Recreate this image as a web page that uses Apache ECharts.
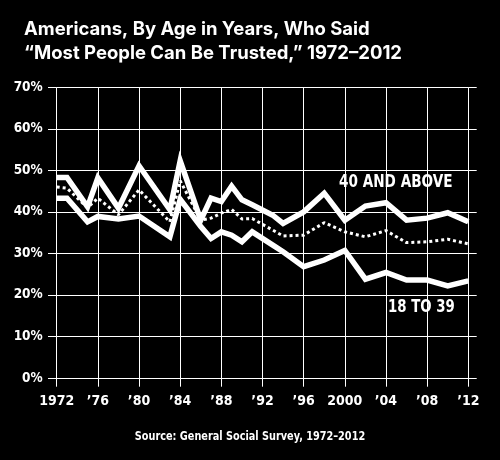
<!DOCTYPE html>
<html>
<head>
<meta charset="utf-8">
<script src="https://cdn.jsdelivr.net/npm/echarts@6/dist/echarts.min.js"></script>
<style>
html,body{margin:0;padding:0;background:#000;}
#c{width:500px;height:460px;}
</style>
</head>
<body>
<div id="c"></div>
<script>
// Data
var years = [1972,1973,1975,1976,1978,1980,1983,1984,1986,1987,1988,1989,1990,1991,1993,1994,1996,1998,2000,2002,2004,2006,2008,2010,2012];
var above40 = [48.3,48.3,41.2,48.2,40.9,51.1,40.5,52.3,38.0,43.3,42.5,46.2,42.9,41.7,39.2,37.2,40.0,44.5,38.0,41.4,42.2,38.0,38.5,39.8,37.6];
var age18to39 = [43.3,43.3,37.6,38.9,38.3,39.0,34.0,43.0,36.5,33.6,35.2,34.4,32.8,35.2,32.0,30.4,26.8,28.4,30.7,23.8,25.4,23.6,23.6,22.2,23.4];
var allAges = [46.0,45.7,41.0,43.3,39.3,45.3,37.6,47.5,38.0,38.5,39.7,40.6,38.3,38.4,35.6,34.2,34.4,37.4,35.2,34.0,35.5,32.6,32.8,33.4,32.3];
var xTickLabels = {1972:'1972',1976:'’76',1980:'’80',1984:'’84',1988:'’88',1992:'’92',1996:'’96',2000:'2000',2004:'’04',2008:'’08',2012:'’12'};
var titleLines = ['Americans, By Age in Years, Who Said', '“Most People Can Be Trusted,” 1972–2012'];
var sourceText = 'Source: General Social Survey, 1972–2012';
var labelAbove = '40 AND ABOVE';
var labelYoung = '18 TO 39';

function pairs(v){ return years.map(function(y,i){ return [y, v[i]]; }); }

var narrow = '"Liberation Sans Narrow", "DejaVu Sans Condensed", "Liberation Sans", sans-serif';
var chart = echarts.init(document.getElementById('c'), null, {renderer:'canvas'});
var lineCol = '#ffffff';
chart.setOption({
  backgroundColor:'#000',
  animation:false,
  title:{
    text: titleLines.join('\n'),
    left:19, top:12,
    textStyle:{color:'#fff', fontFamily:'Inter, "Liberation Sans", sans-serif', fontWeight:700, fontSize:18.5, lineHeight:24}
  },
  grid:{left:56.7, right:31.7, top:87.3, bottom:82},
  xAxis:[{
    type:'value', min:1972, max:2012, interval:4, position:'bottom',
    axisLine:{show:true, lineStyle:{color:lineCol, width:1}},
    axisTick:{show:true, length:8.7, lineStyle:{color:lineCol, width:1}},
    splitLine:{show:true, lineStyle:{color:lineCol, width:1}},
    axisLabel:{color:'#fff', fontFamily:narrow, fontWeight:700, fontSize:14, margin:16,
      formatter:function(v){ return xTickLabels[v] || ''; }}
  },{
    type:'value', min:1972, max:2012, interval:4, position:'top',
    axisLine:{show:false},
    axisTick:{show:true, length:8.3, lineStyle:{color:lineCol, width:1}},
    splitLine:{show:false}, axisLabel:{show:false}
  }],
  yAxis:[{
    type:'value', min:0, max:70, interval:10, position:'left',
    axisLine:{show:false},
    axisTick:{show:true, length:8.7, lineStyle:{color:lineCol, width:1}},
    splitLine:{show:true, lineStyle:{color:lineCol, width:1}},
    axisLabel:{color:'#fff', fontFamily:narrow, fontWeight:700, fontSize:13.5, margin:14, formatter:'{value}%'}
  },{
    type:'value', min:0, max:70, interval:10, position:'right',
    axisLine:{show:false},
    axisTick:{show:true, length:8.4, lineStyle:{color:lineCol, width:1}},
    splitLine:{show:false}, axisLabel:{show:false}
  }],
  series:[
    {name:'All', type:'line', data:pairs(allAges), symbol:'none', silent:true,
      lineStyle:{color:'#fff', width:3, type:[3,3], cap:'butt'}},
    {name:'40 and above', type:'line', data:pairs(above40), symbol:'none', silent:true,
      lineStyle:{color:'#fff', width:5.5, cap:'butt', join:'miter'}},
    {name:'18 to 39', type:'line', data:pairs(age18to39), symbol:'none', silent:true,
      lineStyle:{color:'#fff', width:5.5, cap:'butt', join:'miter'}}
  ],
  graphic:[
    {type:'text', x:339, y:174, scaleX:0.89, style:{text:labelAbove, fill:'#fff', font:'700 17px '+narrow}},
    {type:'text', x:388, y:299, scaleX:0.87, style:{text:labelYoung, fill:'#fff', font:'700 17px '+narrow}},
    {type:'text', x:250, y:431, scaleX:0.9, style:{text:sourceText, fill:'#fff', align:'center', font:'700 12px '+narrow}}
  ]
});
</script>
</body>
</html>
